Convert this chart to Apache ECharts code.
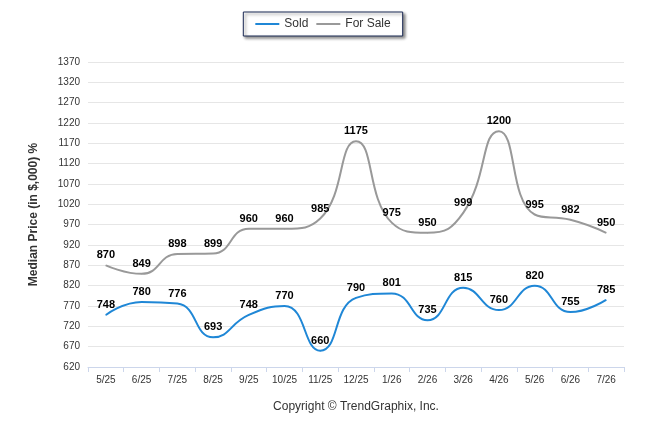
<!DOCTYPE html>
<html>
<head>
<meta charset="utf-8">
<script src="https://cdn.jsdelivr.net/npm/echarts@6/dist/echarts.min.js"></script>
<style>html,body{margin:0;padding:0;background:#fff}#c{width:646px;height:434px}</style>
</head>
<body>
<div id="c"></div>
<script>
// 数据
var months = ['5/25', '6/25', '7/25', '8/25', '9/25', '10/25', '11/25', '12/25', '1/26', '2/26', '3/26', '4/26', '5/26', '6/26', '7/26'];
var sold = [748, 780, 776, 693, 748, 770, 660, 790, 801, 735, 815, 760, 820, 755, 785];
var forSale = [870, 849, 898, 899, 960, 960, 985, 1175, 975, 950, 999, 1200, 995, 982, 950];

var chart = echarts.init(document.getElementById('c'));

var labelStyle = {
  show: true,
  position: 'top',
  distance: 4,
  color: '#000',
  fontWeight: 'bold',
  fontSize: 11,
  fontFamily: 'Arial, Liberation Sans'
};

var option = {
  animation: false,
  textStyle: { fontFamily: 'Arial, Liberation Sans' },
  legend: {
    top: 12,
    left: 'center',
    data: ['Sold', 'For Sale'],
    itemWidth: 24,
    itemHeight: 2,
    icon: 'rect',
    padding: [6, 12],
    borderColor: '#1b2a55',
    borderWidth: 1,
    backgroundColor: '#fff',
    shadowColor: 'rgba(0,0,0,0.45)',
    shadowBlur: 3,
    shadowOffsetX: 2,
    shadowOffsetY: 2,
    textStyle: { fontSize: 12, color: '#333' }
  },
  grid: { left: 88, right: 22, top: 62, bottom: 67 },
  xAxis: {
    type: 'category',
    data: months,
    boundaryGap: true,
    axisLine: { lineStyle: { color: '#ccd6eb' } },
    axisTick: { show: true, lineStyle: { color: '#ccd6eb' } },
    axisLabel: { fontSize: 10, color: '#333' },
    name: 'Copyright © TrendGraphix, Inc.',
    nameLocation: 'middle',
    nameGap: 34,
    nameTextStyle: { fontSize: 12, color: '#333' }
  },
  yAxis: {
    type: 'value',
    min: 620,
    max: 1370,
    interval: 50,
    axisLine: { show: false },
    axisTick: { show: false },
    axisLabel: { fontSize: 10, color: '#333', formatter: function (v) { return String(v); } },
    splitLine: { lineStyle: { color: '#e6e6e6' } },
    name: 'Median Price (in $,000) %',
    nameLocation: 'middle',
    nameGap: 48,
    nameTextStyle: { fontSize: 12, fontWeight: 'bold', color: '#333' }
  },
  series: [{
    name: 'Sold',
    type: 'line',
    smooth: true,
    data: sold,
    symbol: 'circle',
    symbolSize: 1,
    lineStyle: { color: '#1f87d6', width: 2 },
    itemStyle: { color: '#1f87d6' },
    label: labelStyle
  }, {
    name: 'For Sale',
    type: 'line',
    smooth: true,
    data: forSale,
    symbol: 'circle',
    symbolSize: 1,
    lineStyle: { color: '#999999', width: 2 },
    itemStyle: { color: '#999999' },
    label: labelStyle
  }]
};

chart.setOption(option);
</script>
</body>
</html>
